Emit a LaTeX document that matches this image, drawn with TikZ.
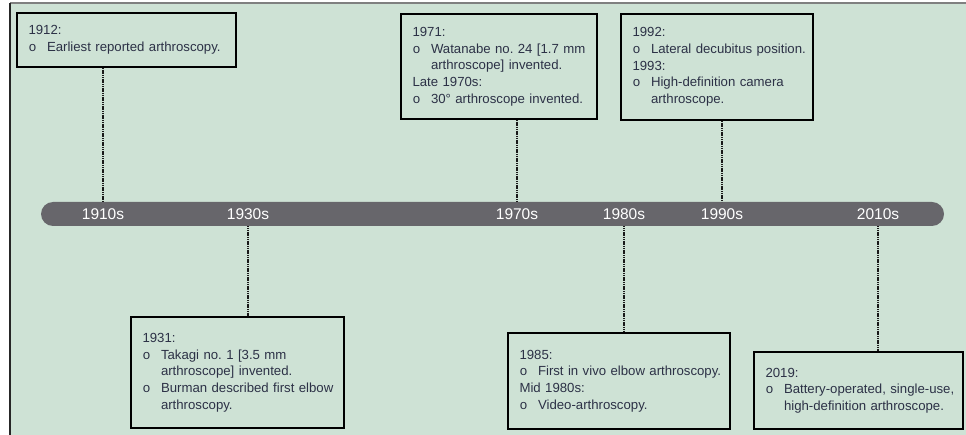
\documentclass[tikz,border=0pt]{standalone}
\usepackage{fontspec}
\setmainfont{Liberation Sans}
\newfontfamily\bulletfont{Liberation Mono}
\frenchspacing

\definecolor{bggreen}{RGB}{206,226,213}
\definecolor{bargray}{RGB}{103,102,107}
\definecolor{inkblue}{RGB}{44,49,70}

% bullet line and continuation line
\newcommand{\itm}[1]{\makebox[18.5pt][l]{\bulletfont o}\mbox{#1}}
\newcommand{\cont}[1]{\hspace*{18.5pt}\mbox{#1}}

\begin{document}
\begin{tikzpicture}[x=1pt, y=-1pt,
  evbox/.style={draw=black, line width=1.6pt, align=left, inner xsep=11.5pt, inner ysep=0pt,
    text=inkblue, font=\fontsize{13.2}{16.7}\selectfont},
  decade/.style={text=white, font=\fontsize{15.5}{18}\selectfont, inner sep=0pt},
  tick/.style={line width=1.8pt, black!90, dash pattern=on 1.3pt off 0.5pt}]

\useasboundingbox (0,0) rectangle (966,435);

% Hintergrund
\fill[white] (0,0) rectangle (966,435);
\fill[bggreen] (10,3) rectangle (966,435);
\draw[gray, line width=1.2pt] (10,3) -- (966,3);
\draw[black!85, line width=1.5pt] (10,3) -- (10,435);

% Zeitleiste
\node[fill=bargray, rounded corners=12pt, minimum width=903pt, minimum height=24pt, inner sep=0pt] (bar) at (492.5,214) {};

% Jahrzehnte
\node[decade] (d1910) at (103,214) {1910s};
\node[decade] (d1930) at (248,214) {1930s};
\node[decade] (d1970) at (517,214) {1970s};
\node[decade] (d1980) at (624,214) {1980s};
\node[decade] (d1990) at (722,214) {1990s};
\node[decade] (d2010) at (878,214) {2010s};

% Kästen oben
\node[evbox, minimum width=219pt, minimum height=54pt, text width=196pt] (b1912) at (126.5,40)
  {1912:\\ \itm{Earliest reported arthroscopy.}};
\node[evbox, minimum width=196pt, minimum height=105pt, text width=173pt] (b1971) at (499,66.5)
  {1971:\\ \itm{Watanabe no. 24 [1.7 mm}\\ \cont{arthroscope] invented.}\\ Late 1970s:\\ \itm{30° arthroscope invented.}};
\node[evbox, minimum width=192pt, minimum height=106pt, text width=169pt] (b1992) at (717,67)
  {1992:\\ \itm{Lateral decubitus position.}\\ 1993:\\ \itm{High-definition camera}\\ \cont{arthroscope.}};

% Kästen unten
\node[evbox, minimum width=213pt, minimum height=111pt, text width=190pt] (b1931) at (237.5,372.5)
  {1931:\\ \itm{Takagi no. 1 [3.5 mm}\\ \cont{arthroscope] invented.}\\ \itm{Burman described first elbow}\\ \cont{arthroscopy.}};
\node[evbox, minimum width=222pt, minimum height=96pt, text width=199pt] (b1985) at (619,381)
  {1985:\\ \itm{First in vivo elbow arthroscopy.}\\ Mid 1980s:\\ \itm{Video-arthroscopy.}};
\node[evbox, minimum width=209pt, minimum height=77pt, text width=186pt] (b2019) at (858.5,390.5)
  {2019:\\ \itm{Battery-operated, single-use,}\\ \cont{high-definition arthroscope.}};

% Verbindungen zur Leiste
\draw[tick] (b1912.south -| d1910) -- (d1910 |- bar.north);
\draw[tick] (b1971.south -| d1970) -- (d1970 |- bar.north);
\draw[tick] (b1992.south -| d1990) -- (d1990 |- bar.north);
\draw[tick] (bar.south -| d1930) -- (d1930 |- b1931.north);
\draw[tick] (bar.south -| d1980) -- (d1980 |- b1985.north);
\draw[tick] (bar.south -| d2010) -- (d2010 |- b2019.north);

\end{tikzpicture}
\end{document}
